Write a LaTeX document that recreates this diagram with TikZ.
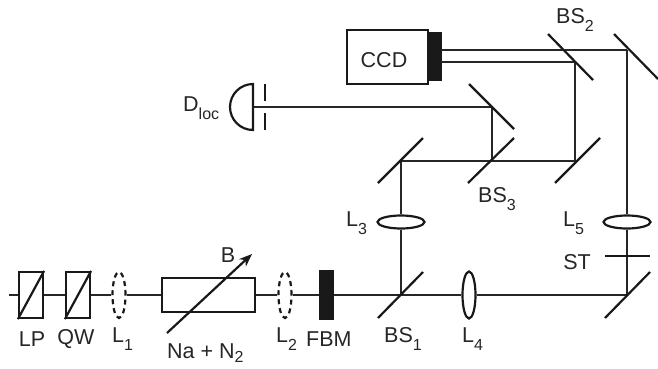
\documentclass[tikz,border=0pt]{standalone}
\usepackage{fontspec}
\setmainfont{Liberation Sans}
\usetikzlibrary{arrows.meta,shapes.geometric}
\newcommand{\sbs}[2][-0.4em]{\raisebox{#1}{\fontsize{16}{16}\selectfont #2}}
\tikzset{
    beam/.style={line width=2pt,black!85},
    mirror/.style={line width=2.2pt,black!90},
    part/.style={draw=black!90,line width=2.2pt,fill=white,inner sep=0pt},
    lens/.style={part,ellipse},
    lab/.style={font=\fontsize{21.5}{23}\selectfont,text=black!85,inner sep=0pt}
}
\begin{document}
\begin{tikzpicture}[x=1pt,y=-1pt]
    \useasboundingbox (0,0) rectangle (658,368);
    % bottom line
    \coordinate (start) at (9,295);
    \node[part,minimum width=24pt,minimum height=46pt] (lp) at (31,295) {};
    \node[part,minimum width=24pt,minimum height=46pt] (qw) at (78,295) {};
    \node[lens,dash pattern=on 5pt off 4pt,minimum width=13pt,minimum height=46pt] (l1) at (119,295) {};
    \node[part,minimum width=93pt,minimum height=34pt] (cell) at (208.5,295) {};
    \node[lens,dash pattern=on 5pt off 4pt,minimum width=13pt,minimum height=46pt] (l2) at (285,295) {};
    \node[part,fill=black!90,minimum width=13pt,minimum height=48pt] (fbm) at (326.5,295) {};
    \coordinate (bs1) at (401,295);
    \node[lens,minimum width=13pt,minimum height=47pt] (l4) at (469,295) {};
    \coordinate (m1) at (627,295);
    \draw[beam] (start) -- (lp);
    \draw[beam] (lp) -- (qw);
    \draw[beam] (qw) -- (l1);
    \draw[beam] (l1.east) -- (cell.west);
    \draw[beam] (cell.east) -- (l2.west);
    \draw[beam] (l2.east) -- (fbm.west);
    \draw[beam] (fbm.east) -- (bs1);
    \draw[beam] (bs1) -- (l4.west);
    \draw[beam] (l4.east) -- (m1);
    \draw[mirror] (lp.south west) -- (lp.north east);
    \draw[mirror] (qw.south west) -- (qw.north east);
    \coordinate (bstart) at (167,333);
    \coordinate (bend) at (252,254);
    \draw[mirror,-{Stealth[length=13pt,width=10pt]}] (bstart) -- (bend);
    % upper beams
    \node[lens,minimum width=47pt,minimum height=13pt] (l3) at (401,222) {};
    \node[lens,minimum width=47pt,minimum height=13pt] (l5) at (627,222) {};
    \node[part,minimum width=81pt,minimum height=54pt] (ccd) at (387.5,57) {};
    \node[part,fill=black!90,minimum width=13pt,minimum height=47pt] (port) at (434.5,56.5) {};
    \coordinate (m2) at (627,50);
    \coordinate (p1) at (441,50);
    \coordinate (p2) at (441,62);
    \coordinate (bs2a) at (570,50);
    \coordinate (bs2b) at (575,62);
    \coordinate (m3) at (575,161);
    \coordinate (bs3) at (492,161);
    \coordinate (m4) at (401,161);
    \coordinate (m5) at (492,107);
    \coordinate (det) at (253,107);
    \draw[beam] (bs1) -- (l3);
    \draw[beam] (l3) -- (m4);
    \draw[beam] (m4) -- (bs3);
    \draw[beam] (bs3) -- (m3);
    \draw[beam] (m3) -- (bs2b);
    \draw[beam] (bs2b) -- (p2);
    \draw[beam,line width=2.6pt] (p1) -- (bs2a);
    \draw[beam,line width=1.7pt] (bs2a) -- (m2);
    \draw[beam] (m2) -- (l5);
    \draw[beam] (l5) -- (m1);
    \draw[beam] (bs3) -- (m5);
    \draw[beam,line width=2.4pt] (m5) -- (det);
    % mirrors
    \draw[mirror] (378,318) -- (423,272);
    \draw[mirror] (605,318) -- (650,272);
    \draw[mirror] (378,183) -- (423,138);
    \draw[mirror] (468,183) -- (514,138);
    \draw[mirror] (555,183) -- (600,138);
    \draw[mirror] (469,84) -- (514,129);
    \draw[mirror] (548,34) -- (593,80);
    \draw[mirror] (614,34) -- (658,79);
    % stop and detector
    \draw[mirror] (605,256) -- (650,256);
    \draw[mirror] (253,130) arc[start angle=90,end angle=270,radius=23] -- cycle;
    \draw[mirror] (265,84) -- (265,101);
    \draw[mirror] (265,113) -- (265,130);
    % labels
    \node[lab] (lplab) at (32,339) {LP};
    \node[lab] (qwlab) at (76,339) {QW};
    \node[lab,anchor=west] (l1lab) at (112,339) {L\sbs{1}};
    \node[lab] (blab) at (228,255) {B};
    \node[lab,anchor=west] (nalab) at (167,353) {Na + N\sbs[-0.2em]{2}};
    \node[lab,anchor=west] (l2lab) at (276,339) {L\sbs{2}};
    \node[lab,anchor=west] (fbmlab) at (306,339) {FBM};
    \node[lab,anchor=west] (bs1lab) at (384,339) {BS\sbs{1}};
    \node[lab,anchor=west] (l4lab) at (462,339) {L\sbs{4}};
    \node[lab,anchor=west] (l3lab) at (346,223) {L\sbs{3}};
    \node[lab,anchor=west] (l5lab) at (563,223) {L\sbs{5}};
    \node[lab] (stlab) at (577,262) {ST};
    \node[lab,anchor=west] (bs3lab) at (478,199) {BS\sbs{3}};
    \node[lab,anchor=west] (bs2lab) at (556,20) {BS\sbs{2}};
    \node[lab] (ccdlab) at (384,60) {CCD};
    \node[lab,anchor=west] (detlab) at (183,108) {D\sbs{loc}};
\end{tikzpicture}
\end{document}
